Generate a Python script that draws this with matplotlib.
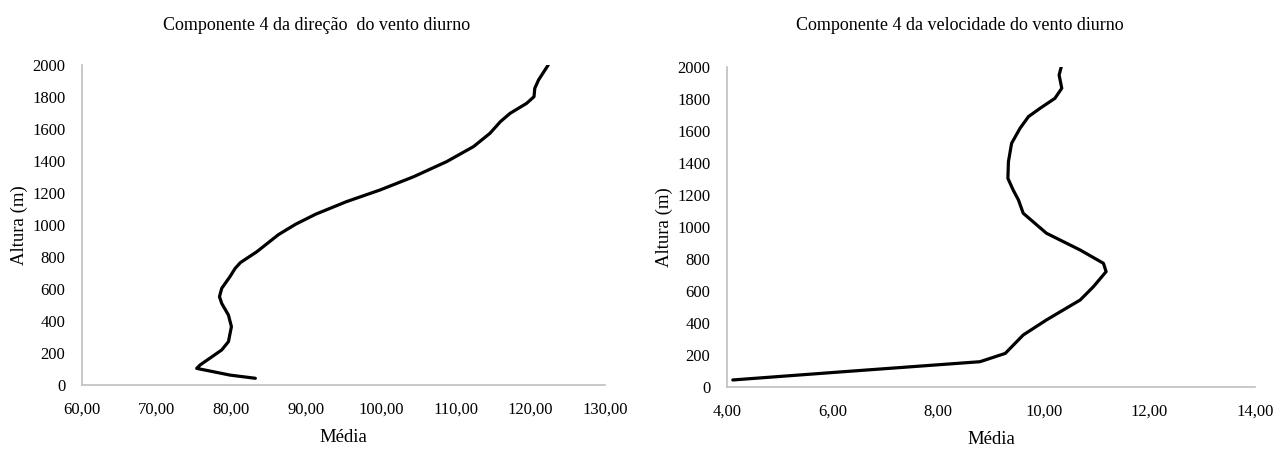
import matplotlib
matplotlib.use("Agg")
import matplotlib.pyplot as plt
from matplotlib.ticker import FuncFormatter, MultipleLocator

# Componente 4 da direção do vento diurno (média vs. altura)
dir_media = [83.2, 79.8, 75.35, 75.8, 77.1, 78.7, 79.6, 80.0, 79.6, 78.7,
             78.4, 78.7, 79.8, 80.5, 81.2, 83.4, 86.3, 88.6, 91.3, 95.4,
             99.9, 104.4, 108.8, 112.4, 114.6, 116.0, 117.3, 119.5, 120.5,
             120.6, 121.1, 122.4]
dir_altura = [42, 62, 104, 125, 167, 219, 271, 365, 437, 510,
              552, 604, 677, 729, 765, 833, 940, 1005, 1068, 1146,
              1219, 1302, 1396, 1490, 1573, 1646, 1698, 1760, 1802,
              1854, 1906, 2000]

# Componente 4 da velocidade do vento diurno (média vs. altura)
vel_media = [4.11, 6.14, 8.79, 9.27, 9.61, 10.05, 10.69, 10.94, 11.18, 11.13,
             10.69, 10.05, 9.61, 9.52, 9.42, 9.32, 9.33, 9.39, 9.55, 9.71,
             9.93, 10.21, 10.34, 10.29, 10.33]
vel_altura = [44, 94, 158, 210, 325, 419, 544, 627, 721, 773,
              856, 961, 1086, 1169, 1231, 1304, 1408, 1523, 1617, 1690,
              1742, 1804, 1867, 1950, 2000]

titulos = ["Componente 4 da direção  do vento diurno",
           "Componente 4 da velocidade do vento diurno"]

plt.rcParams["font.family"] = ["Liberation Serif", "DejaVu Serif"]

fig = plt.figure(figsize=(12.76, 4.5), dpi=100)
ax1 = fig.add_axes([82 / 1276, 65 / 450, (605 - 82) / 1276, 320 / 450])
ax2 = fig.add_axes([727 / 1276, 63 / 450, (1255 - 727) / 1276, 320 / 450])

fmt = FuncFormatter(lambda v, p: f"{v:.2f}".replace(".", ","))

def estilo(ax, xmin, xmax, passo):
    ax.set_xlim(xmin, xmax)
    ax.set_ylim(0, 2000)
    ax.xaxis.set_major_locator(MultipleLocator(passo))
    ax.yaxis.set_major_locator(MultipleLocator(200))
    ax.xaxis.set_major_formatter(fmt)
    for s in ("top", "right"):
        ax.spines[s].set_visible(False)
    for s in ("left", "bottom"):
        ax.spines[s].set_color("#bfbfbf")
        ax.spines[s].set_linewidth(1.2)
    ax.tick_params(axis="both", length=0, labelsize=12)
    ax.tick_params(axis="y", pad=12)
    ax.tick_params(axis="x", pad=12)
    ax.set_xlabel("Média", fontsize=13.5, labelpad=8)
    ax.set_ylabel("Altura (m)", fontsize=13.5, labelpad=3)

ax1.plot(dir_media, dir_altura, color="black", linewidth=2.3,
         solid_capstyle="round", solid_joinstyle="round")
estilo(ax1, 60, 130, 10)

ax2.plot(vel_media, vel_altura, color="black", linewidth=2.3,
         solid_capstyle="round", solid_joinstyle="round")
estilo(ax2, 4, 14, 2)

fig.text(317 / 1276, 1 - 25 / 450, titulos[0], ha="center", va="center", fontsize=13)
fig.text(960 / 1276, 1 - 25 / 450, titulos[1], ha="center", va="center", fontsize=13)

fig.savefig("out.png", dpi=100, facecolor="white")
